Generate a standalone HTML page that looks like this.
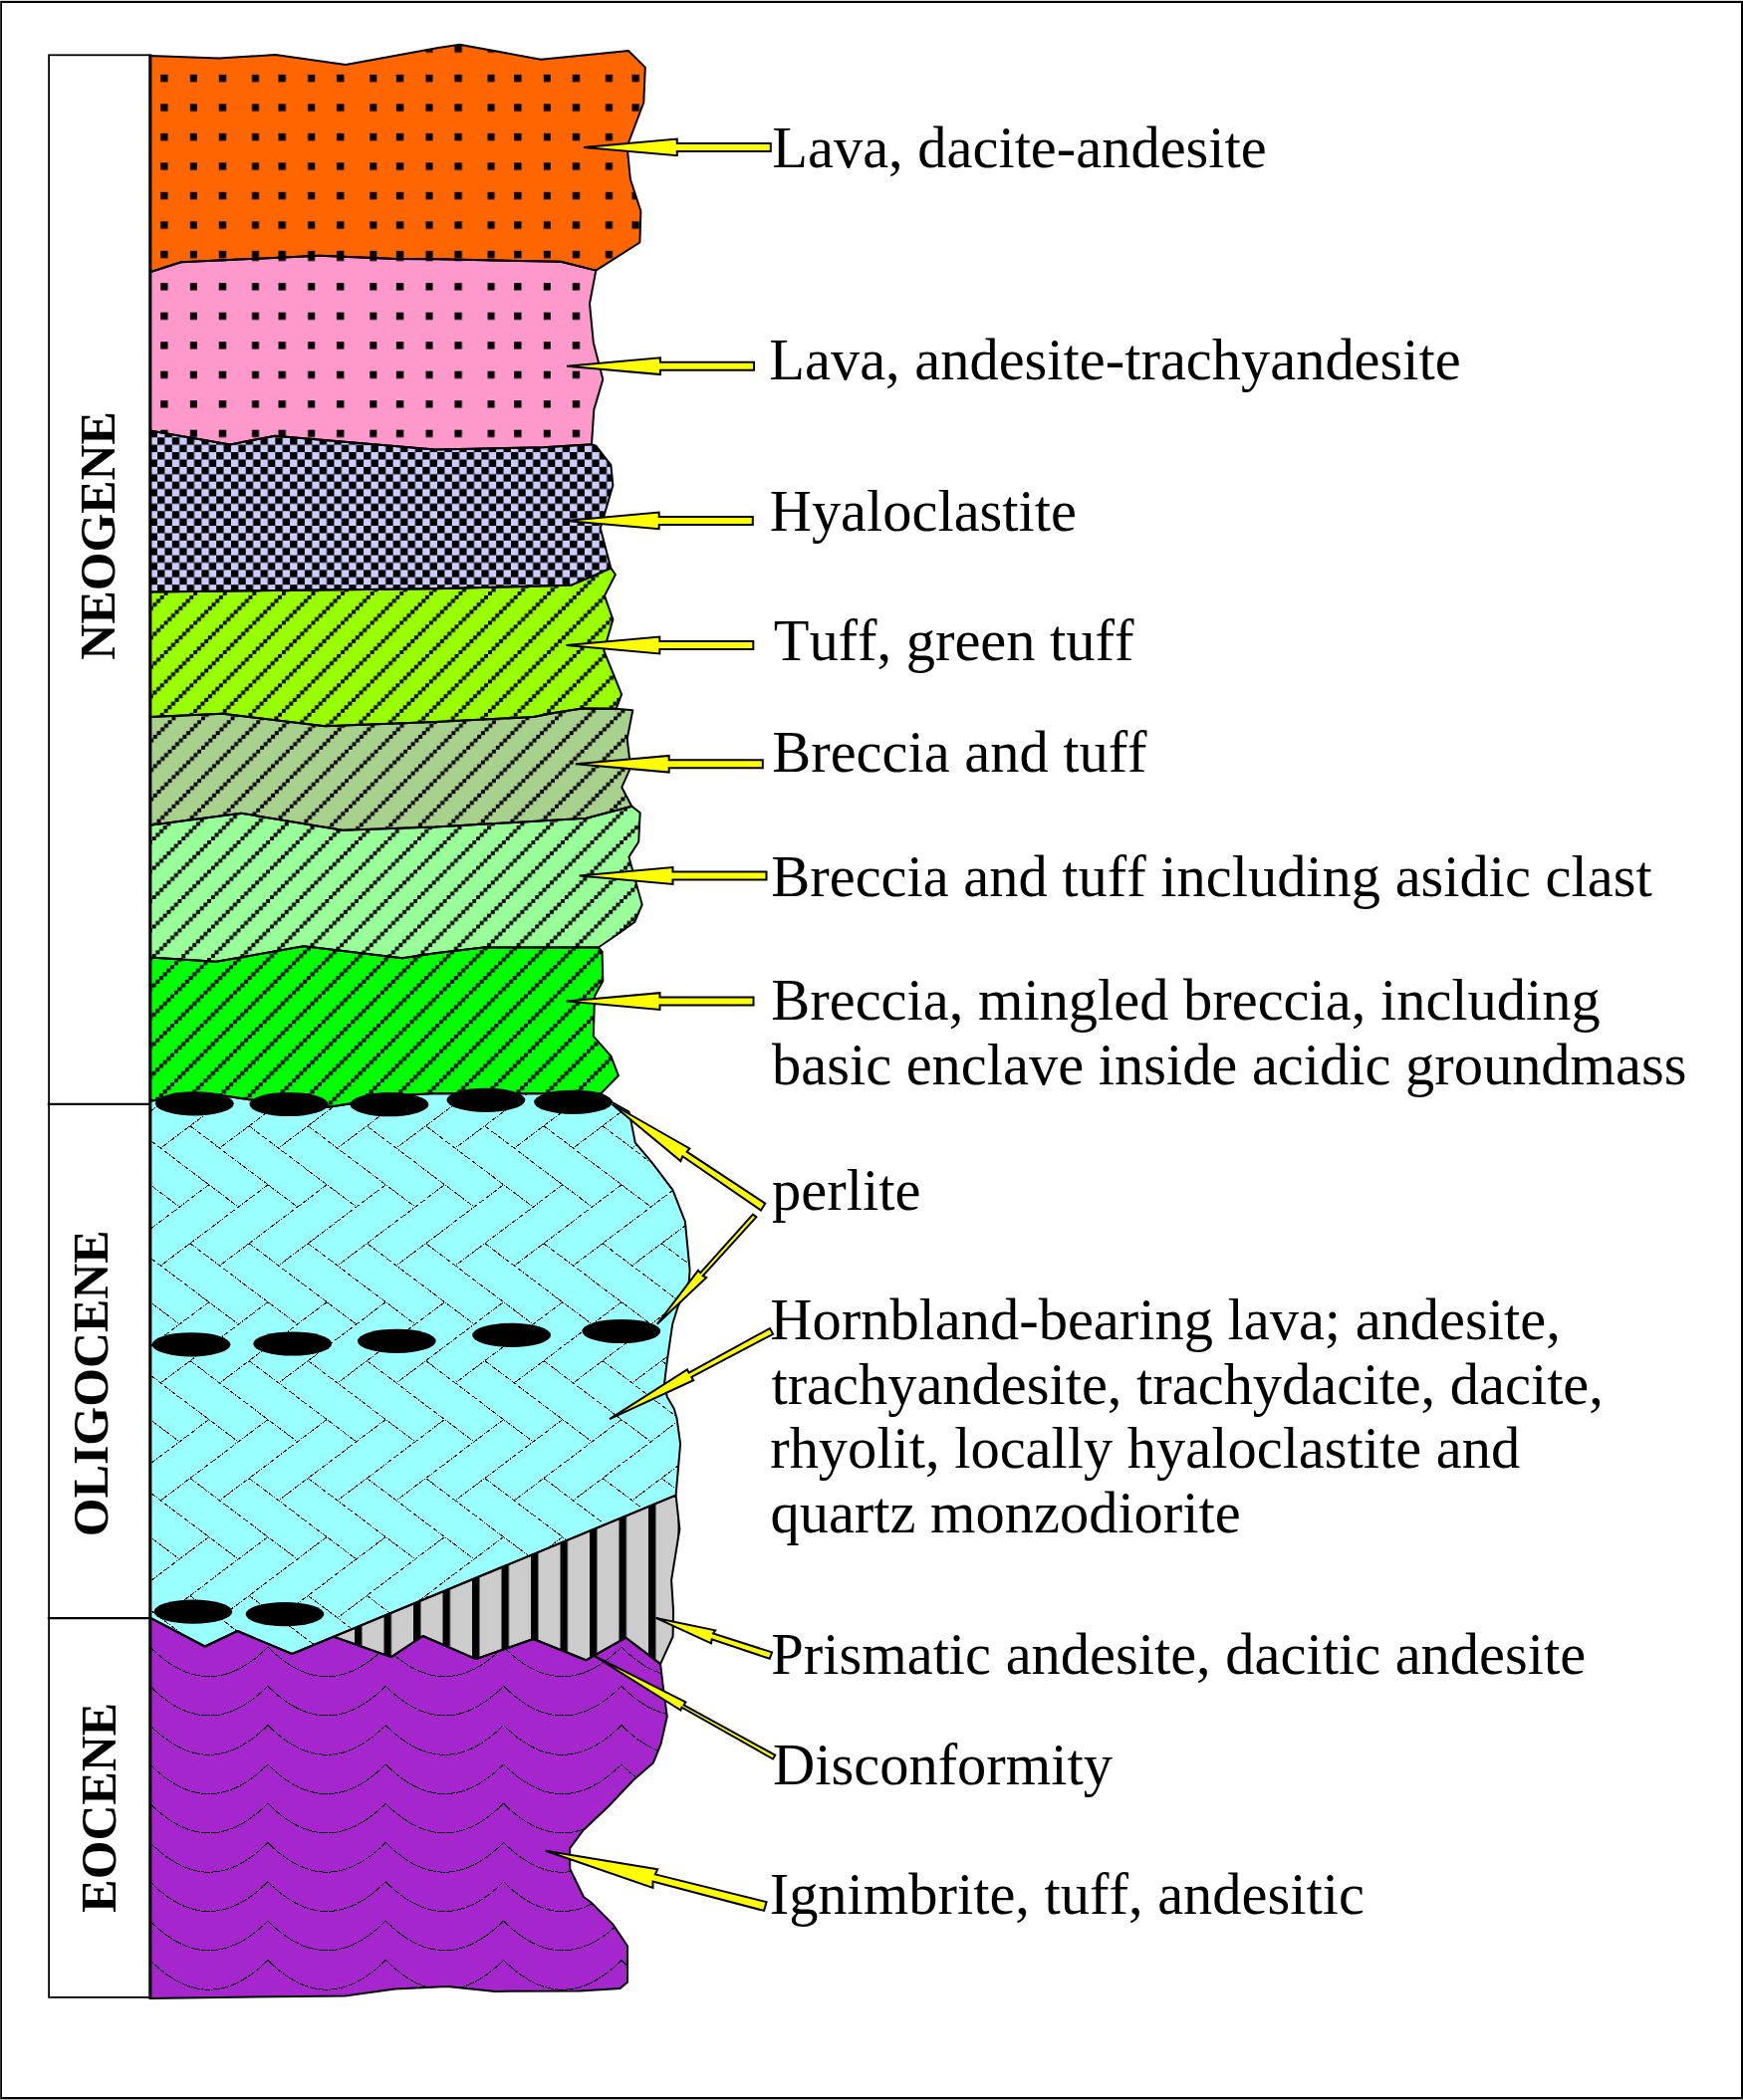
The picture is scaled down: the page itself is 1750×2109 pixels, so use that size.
<!DOCTYPE html>
<html lang="en"><head><meta charset="utf-8"><title>Stratigraphic column</title>
<style>html,body{margin:0;padding:0;background:#fff}svg{display:block}text{font-family:"Liberation Serif","Times New Roman",serif;fill:#000}.lab{font-size:58.45px;font-kerning:none}.era{font-size:49.9px;font-weight:bold;text-anchor:middle;font-kerning:none}</style></head><body>
<svg width="1750" height="2109" viewBox="0 0 1750 2109">
<defs>
<pattern id="dots1" patternUnits="userSpaceOnUse" x="161.20" y="45.35" width="118.320" height="29.500"><rect x="0.00" y="0" width="7.40" height="7.39" fill="#000"/><rect x="29.65" y="0" width="7.00" height="7.39" fill="#000"/><rect x="58.55" y="0" width="7.40" height="7.39" fill="#000"/><rect x="91.80" y="0" width="7.00" height="7.39" fill="#000"/></pattern>
<pattern id="dots2" patternUnits="userSpaceOnUse" x="161.20" y="284.20" width="118.320" height="29.500"><rect x="0.00" y="0" width="7.40" height="7.39" fill="#000"/><rect x="29.65" y="0" width="7.00" height="7.39" fill="#000"/><rect x="58.55" y="0" width="7.40" height="7.39" fill="#000"/><rect x="91.80" y="0" width="7.00" height="7.39" fill="#000"/></pattern>
<pattern id="check" patternUnits="userSpaceOnUse" x="158" y="439.3" width="14.790" height="14.790"><rect x="0" y="0" width="7.395" height="7.395" fill="#000"/><rect x="7.395" y="7.395" width="7.395" height="7.395" fill="#000"/></pattern>
<pattern id="hat1" patternUnits="userSpaceOnUse" x="164.65" y="568.46" width="29.580" height="29.480"><rect x="-0.150" y="25.645" width="3.997" height="3.985" fill="#000"/><rect x="3.547" y="21.960" width="3.997" height="3.985" fill="#000"/><rect x="7.245" y="18.275" width="3.997" height="3.985" fill="#000"/><rect x="10.942" y="14.590" width="3.997" height="3.985" fill="#000"/><rect x="14.640" y="10.905" width="3.997" height="3.985" fill="#000"/><rect x="18.337" y="7.220" width="3.997" height="3.985" fill="#000"/><rect x="22.035" y="3.535" width="3.997" height="3.985" fill="#000"/><rect x="25.733" y="-0.150" width="3.997" height="3.985" fill="#000"/></pattern>
<pattern id="hat2" patternUnits="userSpaceOnUse" x="172.45" y="782.26" width="29.580" height="29.480"><rect x="-0.150" y="25.645" width="3.997" height="3.985" fill="#000"/><rect x="3.547" y="21.960" width="3.997" height="3.985" fill="#000"/><rect x="7.245" y="18.275" width="3.997" height="3.985" fill="#000"/><rect x="10.942" y="14.590" width="3.997" height="3.985" fill="#000"/><rect x="14.640" y="10.905" width="3.997" height="3.985" fill="#000"/><rect x="18.337" y="7.220" width="3.997" height="3.985" fill="#000"/><rect x="22.035" y="3.535" width="3.997" height="3.985" fill="#000"/><rect x="25.733" y="-0.150" width="3.997" height="3.985" fill="#000"/></pattern>
<pattern id="hat3" patternUnits="userSpaceOnUse" x="182.35" y="814.56" width="29.580" height="29.480"><rect x="-0.150" y="25.645" width="3.997" height="3.985" fill="#000"/><rect x="3.547" y="21.960" width="3.997" height="3.985" fill="#000"/><rect x="7.245" y="18.275" width="3.997" height="3.985" fill="#000"/><rect x="10.942" y="14.590" width="3.997" height="3.985" fill="#000"/><rect x="14.640" y="10.905" width="3.997" height="3.985" fill="#000"/><rect x="18.337" y="7.220" width="3.997" height="3.985" fill="#000"/><rect x="22.035" y="3.535" width="3.997" height="3.985" fill="#000"/><rect x="25.733" y="-0.150" width="3.997" height="3.985" fill="#000"/></pattern>
<pattern id="hat4" patternUnits="userSpaceOnUse" x="174.95" y="939.76" width="29.580" height="29.480"><rect x="-0.150" y="25.645" width="3.997" height="3.985" fill="#000"/><rect x="3.547" y="21.960" width="3.997" height="3.985" fill="#000"/><rect x="7.245" y="18.275" width="3.997" height="3.985" fill="#000"/><rect x="10.942" y="14.590" width="3.997" height="3.985" fill="#000"/><rect x="14.640" y="10.905" width="3.997" height="3.985" fill="#000"/><rect x="18.337" y="7.220" width="3.997" height="3.985" fill="#000"/><rect x="22.035" y="3.535" width="3.997" height="3.985" fill="#000"/><rect x="25.733" y="-0.150" width="3.997" height="3.985" fill="#000"/></pattern>
<pattern id="bars" patternUnits="userSpaceOnUse" x="356" y="0" width="29.5" height="29.5"><rect x="0" y="0" width="7.4" height="29.5" fill="#000"/></pattern>
<clipPath id="c_orange"><polygon points="150.6,56.0 219.6,58.6 276.4,55.0 347.1,65.1 440.0,48.0 461.5,44.7 543.0,59.7 631.0,51.0 647.8,67.6 646.3,103.0 631.2,143.0 630.3,153.8 632.9,180.0 643.4,212.0 642.4,243.5 598.3,271.6 563.0,262.8 440.0,260.3 397.6,260.0 320.6,256.8 181.8,263.3 150.6,273.2"/></clipPath>
<clipPath id="c_pink"><polygon points="150.6,273.2 181.8,263.3 320.6,256.8 397.6,260.0 440.0,260.3 563.0,262.8 598.3,271.6 592.0,305.0 595.8,343.9 605.3,381.0 596.3,411.6 594.0,446.2 545.6,449.3 437.0,451.6 276.0,437.7 231.0,446.4 150.6,432.6"/></clipPath>
<clipPath id="c_lilac"><polygon points="150.6,432.6 231.0,446.4 276.0,437.7 437.0,451.6 545.6,449.3 594.0,446.2 598.3,447.7 613.4,467.1 615.4,487.5 602.8,530.5 613.4,570.7 573.2,587.8 505.4,589.5 437.0,591.3 150.6,594.5"/></clipPath>
<clipPath id="c_lime"><polygon points="150.6,594.5 437.0,591.3 505.4,589.5 573.2,587.8 613.4,570.7 617.9,577.0 607.0,598.3 615.4,622.1 606.3,653.5 624.1,697.4 618.4,712.5 618.0,711.7 584.7,711.6 560.0,715.3 535.5,720.0 437.0,725.0 326.3,729.3 223.4,716.8 150.6,720.0"/></clipPath>
<clipPath id="c_olive"><polygon points="150.6,720.0 223.4,716.8 326.3,729.3 437.0,725.0 535.5,720.0 560.0,715.3 584.7,711.6 618.0,711.7 635.3,713.3 629.7,742.0 632.0,761.3 632.3,772.7 624.3,790.7 634.3,809.7 588.7,821.8 437.0,830.5 343.9,833.7 242.2,816.7 150.6,828.7"/></clipPath>
<clipPath id="c_mint"><polygon points="150.6,828.7 242.2,816.7 343.9,833.7 437.0,830.5 588.7,821.8 634.3,809.7 642.7,816.3 641.2,845.5 631.4,860.6 644.7,908.5 637.2,926.0 620.9,937.7 600.8,951.5 485.3,951.5 437.0,957.2 404.1,962.2 305.0,950.2 217.1,965.8 150.6,961.5"/></clipPath>
<clipPath id="c_green"><polygon points="150.6,961.5 217.1,965.8 305.0,950.2 404.1,962.2 437.0,957.2 485.3,951.5 600.8,951.5 604.6,955.7 605.3,985.3 597.0,1000.4 595.8,1040.6 613.4,1060.6 620.9,1080.2 603.3,1098.3 437.0,1098.0 405.0,1100.0 328.8,1112.1 300.0,1108.0 250.0,1104.2 225.0,1100.5 150.6,1105.5"/></clipPath>
<clipPath id="c_cyan"><polygon points="150.6,1105.5 225.0,1100.5 250.0,1104.2 300.0,1108.0 328.8,1112.1 405.0,1100.0 437.0,1098.0 603.3,1098.3 614.6,1107.0 631.6,1116.6 634.0,1128.4 637.8,1147.6 654.5,1167.4 675.5,1195.2 687.9,1226.8 692.6,1275.7 691.8,1286.8 680.5,1312.8 675.2,1329.8 669.8,1366.9 667.0,1389.8 669.8,1402.8 676.8,1414.8 679.6,1424.6 683.1,1450.2 678.6,1501.7 293.2,1661.0 238.5,1638.0 205.8,1653.5 150.6,1624.6"/></clipPath>
<clipPath id="c_gray"><polygon points="335.1,1643.7 678.6,1501.7 682.4,1535.5 674.1,1587.0 676.1,1618.4 675.6,1643.5 663.1,1671.1 628.4,1644.7 588.3,1667.3 535.5,1646.0 477.8,1666.1 424.6,1643.0 392.8,1664.1"/></clipPath>
<clipPath id="c_purple"><polygon points="150.6,1624.6 205.8,1653.5 238.5,1638.0 293.2,1661.0 335.1,1643.7 392.8,1664.1 424.6,1643.0 477.8,1666.1 535.5,1646.0 588.3,1667.3 628.4,1644.7 663.1,1671.1 666.1,1696.2 669.8,1723.8 663.6,1751.4 656.0,1770.2 635.9,1787.8 610.8,1814.2 585.7,1838.0 572.1,1856.3 572.3,1877.0 586.0,1905.0 593.1,1910.3 615.0,1932.1 630.0,1954.2 630.0,1990.8 622.5,1996.9 582.3,1999.4 497.0,1999.9 449.3,1994.9 396.6,1997.4 346.4,2004.4 150.6,2006.9"/></clipPath>
</defs>
<rect x="0" y="0" width="1750" height="2109" fill="#fff"/>
<polygon points="150.6,56.0 219.6,58.6 276.4,55.0 347.1,65.1 440.0,48.0 461.5,44.7 543.0,59.7 631.0,51.0 647.8,67.6 646.3,103.0 631.2,143.0 630.3,153.8 632.9,180.0 643.4,212.0 642.4,243.5 598.3,271.6 563.0,262.8 440.0,260.3 397.6,260.0 320.6,256.8 181.8,263.3 150.6,273.2" fill="#FF6600"/>
<polygon points="150.6,56.0 219.6,58.6 276.4,55.0 347.1,65.1 440.0,48.0 461.5,44.7 543.0,59.7 631.0,51.0 647.8,67.6 646.3,103.0 631.2,143.0 630.3,153.8 632.9,180.0 643.4,212.0 642.4,243.5 598.3,271.6 563.0,262.8 440.0,260.3 397.6,260.0 320.6,256.8 181.8,263.3 150.6,273.2" fill="url(#dots1)"/>
<polygon points="150.6,273.2 181.8,263.3 320.6,256.8 397.6,260.0 440.0,260.3 563.0,262.8 598.3,271.6 592.0,305.0 595.8,343.9 605.3,381.0 596.3,411.6 594.0,446.2 545.6,449.3 437.0,451.6 276.0,437.7 231.0,446.4 150.6,432.6" fill="#FF99CC"/>
<polygon points="150.6,273.2 181.8,263.3 320.6,256.8 397.6,260.0 440.0,260.3 563.0,262.8 598.3,271.6 592.0,305.0 595.8,343.9 605.3,381.0 596.3,411.6 594.0,446.2 545.6,449.3 437.0,451.6 276.0,437.7 231.0,446.4 150.6,432.6" fill="url(#dots2)"/>
<polygon points="150.6,432.6 231.0,446.4 276.0,437.7 437.0,451.6 545.6,449.3 594.0,446.2 598.3,447.7 613.4,467.1 615.4,487.5 602.8,530.5 613.4,570.7 573.2,587.8 505.4,589.5 437.0,591.3 150.6,594.5" fill="#CCCCFF"/>
<polygon points="150.6,432.6 231.0,446.4 276.0,437.7 437.0,451.6 545.6,449.3 594.0,446.2 598.3,447.7 613.4,467.1 615.4,487.5 602.8,530.5 613.4,570.7 573.2,587.8 505.4,589.5 437.0,591.3 150.6,594.5" fill="url(#check)"/>
<polygon points="150.6,594.5 437.0,591.3 505.4,589.5 573.2,587.8 613.4,570.7 617.9,577.0 607.0,598.3 615.4,622.1 606.3,653.5 624.1,697.4 618.4,712.5 618.0,711.7 584.7,711.6 560.0,715.3 535.5,720.0 437.0,725.0 326.3,729.3 223.4,716.8 150.6,720.0" fill="#99FF00"/>
<polygon points="150.6,594.5 437.0,591.3 505.4,589.5 573.2,587.8 613.4,570.7 617.9,577.0 607.0,598.3 615.4,622.1 606.3,653.5 624.1,697.4 618.4,712.5 618.0,711.7 584.7,711.6 560.0,715.3 535.5,720.0 437.0,725.0 326.3,729.3 223.4,716.8 150.6,720.0" fill="url(#hat1)"/>
<polygon points="150.6,720.0 223.4,716.8 326.3,729.3 437.0,725.0 535.5,720.0 560.0,715.3 584.7,711.6 618.0,711.7 635.3,713.3 629.7,742.0 632.0,761.3 632.3,772.7 624.3,790.7 634.3,809.7 588.7,821.8 437.0,830.5 343.9,833.7 242.2,816.7 150.6,828.7" fill="#A9D18E"/>
<polygon points="150.6,720.0 223.4,716.8 326.3,729.3 437.0,725.0 535.5,720.0 560.0,715.3 584.7,711.6 618.0,711.7 635.3,713.3 629.7,742.0 632.0,761.3 632.3,772.7 624.3,790.7 634.3,809.7 588.7,821.8 437.0,830.5 343.9,833.7 242.2,816.7 150.6,828.7" fill="url(#hat2)"/>
<polygon points="150.6,828.7 242.2,816.7 343.9,833.7 437.0,830.5 588.7,821.8 634.3,809.7 642.7,816.3 641.2,845.5 631.4,860.6 644.7,908.5 637.2,926.0 620.9,937.7 600.8,951.5 485.3,951.5 437.0,957.2 404.1,962.2 305.0,950.2 217.1,965.8 150.6,961.5" fill="#99FF99"/>
<polygon points="150.6,828.7 242.2,816.7 343.9,833.7 437.0,830.5 588.7,821.8 634.3,809.7 642.7,816.3 641.2,845.5 631.4,860.6 644.7,908.5 637.2,926.0 620.9,937.7 600.8,951.5 485.3,951.5 437.0,957.2 404.1,962.2 305.0,950.2 217.1,965.8 150.6,961.5" fill="url(#hat3)"/>
<polygon points="150.6,961.5 217.1,965.8 305.0,950.2 404.1,962.2 437.0,957.2 485.3,951.5 600.8,951.5 604.6,955.7 605.3,985.3 597.0,1000.4 595.8,1040.6 613.4,1060.6 620.9,1080.2 603.3,1098.3 437.0,1098.0 405.0,1100.0 328.8,1112.1 300.0,1108.0 250.0,1104.2 225.0,1100.5 150.6,1105.5" fill="#00FF00"/>
<polygon points="150.6,961.5 217.1,965.8 305.0,950.2 404.1,962.2 437.0,957.2 485.3,951.5 600.8,951.5 604.6,955.7 605.3,985.3 597.0,1000.4 595.8,1040.6 613.4,1060.6 620.9,1080.2 603.3,1098.3 437.0,1098.0 405.0,1100.0 328.8,1112.1 300.0,1108.0 250.0,1104.2 225.0,1100.5 150.6,1105.5" fill="url(#hat4)"/>
<polygon points="150.6,1105.5 225.0,1100.5 250.0,1104.2 300.0,1108.0 328.8,1112.1 405.0,1100.0 437.0,1098.0 603.3,1098.3 614.6,1107.0 631.6,1116.6 634.0,1128.4 637.8,1147.6 654.5,1167.4 675.5,1195.2 687.9,1226.8 692.6,1275.7 691.8,1286.8 680.5,1312.8 675.2,1329.8 669.8,1366.9 667.0,1389.8 669.8,1402.8 676.8,1414.8 679.6,1424.6 683.1,1450.2 678.6,1501.7 293.2,1661.0 238.5,1638.0 205.8,1653.5 150.6,1624.6" fill="#99FFFF"/>
<polygon points="335.1,1643.7 678.6,1501.7 682.4,1535.5 674.1,1587.0 676.1,1618.4 675.6,1643.5 663.1,1671.1 628.4,1644.7 588.3,1667.3 535.5,1646.0 477.8,1666.1 424.6,1643.0 392.8,1664.1" fill="#CCCCCC"/>
<polygon points="335.1,1643.7 678.6,1501.7 682.4,1535.5 674.1,1587.0 676.1,1618.4 675.6,1643.5 663.1,1671.1 628.4,1644.7 588.3,1667.3 535.5,1646.0 477.8,1666.1 424.6,1643.0 392.8,1664.1" fill="url(#bars)"/>
<polygon points="150.6,1624.6 205.8,1653.5 238.5,1638.0 293.2,1661.0 335.1,1643.7 392.8,1664.1 424.6,1643.0 477.8,1666.1 535.5,1646.0 588.3,1667.3 628.4,1644.7 663.1,1671.1 666.1,1696.2 669.8,1723.8 663.6,1751.4 656.0,1770.2 635.9,1787.8 610.8,1814.2 585.7,1838.0 572.1,1856.3 572.3,1877.0 586.0,1905.0 593.1,1910.3 615.0,1932.1 630.0,1954.2 630.0,1990.8 622.5,1996.9 582.3,1999.4 497.0,1999.9 449.3,1994.9 396.6,1997.4 346.4,2004.4 150.6,2006.9" fill="#A526CC"/>
<path d="M13.4 1012.9l107.7 81.3M91.5 1071.8l-107.7 81.3M13.4 1130.8l107.7 81.3M91.5 1189.8l-107.7 81.3M13.4 1248.7l107.7 81.3M91.5 1307.7l-107.7 81.3M13.4 1366.6l107.7 81.3M91.5 1425.6l-107.7 81.3M13.4 1484.6l107.7 81.3M91.5 1543.5l-107.7 81.3M13.4 1602.5l107.7 81.3M91.5 1661.4l-107.7 81.3M13.4 1720.4l107.7 81.3M91.5 1779.4l-107.7 81.3M72.6 1012.9l107.7 81.3M150.7 1071.8l-107.7 81.3M72.6 1130.8l107.7 81.3M150.7 1189.8l-107.7 81.3M72.6 1248.7l107.7 81.3M150.7 1307.7l-107.7 81.3M72.6 1366.6l107.7 81.3M150.7 1425.6l-107.7 81.3M72.6 1484.6l107.7 81.3M150.7 1543.5l-107.7 81.3M72.6 1602.5l107.7 81.3M150.7 1661.4l-107.7 81.3M72.6 1720.4l107.7 81.3M150.7 1779.4l-107.7 81.3M131.7 1012.9l107.7 81.3M209.8 1071.8l-107.7 81.3M131.7 1130.8l107.7 81.3M209.8 1189.8l-107.7 81.3M131.7 1248.7l107.7 81.3M209.8 1307.7l-107.7 81.3M131.7 1366.6l107.7 81.3M209.8 1425.6l-107.7 81.3M131.7 1484.6l107.7 81.3M209.8 1543.5l-107.7 81.3M131.7 1602.5l107.7 81.3M209.8 1661.4l-107.7 81.3M131.7 1720.4l107.7 81.3M209.8 1779.4l-107.7 81.3M190.9 1012.9l107.7 81.3M269.0 1071.8l-107.7 81.3M190.9 1130.8l107.7 81.3M269.0 1189.8l-107.7 81.3M190.9 1248.7l107.7 81.3M269.0 1307.7l-107.7 81.3M190.9 1366.6l107.7 81.3M269.0 1425.6l-107.7 81.3M190.9 1484.6l107.7 81.3M269.0 1543.5l-107.7 81.3M190.9 1602.5l107.7 81.3M269.0 1661.4l-107.7 81.3M190.9 1720.4l107.7 81.3M269.0 1779.4l-107.7 81.3M250.1 1012.9l107.7 81.3M328.2 1071.8l-107.7 81.3M250.1 1130.8l107.7 81.3M328.2 1189.8l-107.7 81.3M250.1 1248.7l107.7 81.3M328.2 1307.7l-107.7 81.3M250.1 1366.6l107.7 81.3M328.2 1425.6l-107.7 81.3M250.1 1484.6l107.7 81.3M328.2 1543.5l-107.7 81.3M250.1 1602.5l107.7 81.3M328.2 1661.4l-107.7 81.3M250.1 1720.4l107.7 81.3M328.2 1779.4l-107.7 81.3M309.2 1012.9l107.7 81.3M387.3 1071.8l-107.7 81.3M309.2 1130.8l107.7 81.3M387.3 1189.8l-107.7 81.3M309.2 1248.7l107.7 81.3M387.3 1307.7l-107.7 81.3M309.2 1366.6l107.7 81.3M387.3 1425.6l-107.7 81.3M309.2 1484.6l107.7 81.3M387.3 1543.5l-107.7 81.3M309.2 1602.5l107.7 81.3M387.3 1661.4l-107.7 81.3M309.2 1720.4l107.7 81.3M387.3 1779.4l-107.7 81.3M368.4 1012.9l107.7 81.3M446.5 1071.8l-107.7 81.3M368.4 1130.8l107.7 81.3M446.5 1189.8l-107.7 81.3M368.4 1248.7l107.7 81.3M446.5 1307.7l-107.7 81.3M368.4 1366.6l107.7 81.3M446.5 1425.6l-107.7 81.3M368.4 1484.6l107.7 81.3M446.5 1543.5l-107.7 81.3M368.4 1602.5l107.7 81.3M446.5 1661.4l-107.7 81.3M368.4 1720.4l107.7 81.3M446.5 1779.4l-107.7 81.3M427.5 1012.9l107.7 81.3M505.6 1071.8l-107.7 81.3M427.5 1130.8l107.7 81.3M505.6 1189.8l-107.7 81.3M427.5 1248.7l107.7 81.3M505.6 1307.7l-107.7 81.3M427.5 1366.6l107.7 81.3M505.6 1425.6l-107.7 81.3M427.5 1484.6l107.7 81.3M505.6 1543.5l-107.7 81.3M427.5 1602.5l107.7 81.3M505.6 1661.4l-107.7 81.3M427.5 1720.4l107.7 81.3M505.6 1779.4l-107.7 81.3M486.7 1012.9l107.7 81.3M564.8 1071.8l-107.7 81.3M486.7 1130.8l107.7 81.3M564.8 1189.8l-107.7 81.3M486.7 1248.7l107.7 81.3M564.8 1307.7l-107.7 81.3M486.7 1366.6l107.7 81.3M564.8 1425.6l-107.7 81.3M486.7 1484.6l107.7 81.3M564.8 1543.5l-107.7 81.3M486.7 1602.5l107.7 81.3M564.8 1661.4l-107.7 81.3M486.7 1720.4l107.7 81.3M564.8 1779.4l-107.7 81.3M545.9 1012.9l107.7 81.3M624.0 1071.8l-107.7 81.3M545.9 1130.8l107.7 81.3M624.0 1189.8l-107.7 81.3M545.9 1248.7l107.7 81.3M624.0 1307.7l-107.7 81.3M545.9 1366.6l107.7 81.3M624.0 1425.6l-107.7 81.3M545.9 1484.6l107.7 81.3M624.0 1543.5l-107.7 81.3M545.9 1602.5l107.7 81.3M624.0 1661.4l-107.7 81.3M545.9 1720.4l107.7 81.3M624.0 1779.4l-107.7 81.3M605.0 1012.9l107.7 81.3M683.1 1071.8l-107.7 81.3M605.0 1130.8l107.7 81.3M683.1 1189.8l-107.7 81.3M605.0 1248.7l107.7 81.3M683.1 1307.7l-107.7 81.3M605.0 1366.6l107.7 81.3M683.1 1425.6l-107.7 81.3M605.0 1484.6l107.7 81.3M683.1 1543.5l-107.7 81.3M605.0 1602.5l107.7 81.3M683.1 1661.4l-107.7 81.3M605.0 1720.4l107.7 81.3M683.1 1779.4l-107.7 81.3M664.2 1012.9l107.7 81.3M742.3 1071.8l-107.7 81.3M664.2 1130.8l107.7 81.3M742.3 1189.8l-107.7 81.3M664.2 1248.7l107.7 81.3M742.3 1307.7l-107.7 81.3M664.2 1366.6l107.7 81.3M742.3 1425.6l-107.7 81.3M664.2 1484.6l107.7 81.3M742.3 1543.5l-107.7 81.3M664.2 1602.5l107.7 81.3M742.3 1661.4l-107.7 81.3M664.2 1720.4l107.7 81.3M742.3 1779.4l-107.7 81.3M723.3 1012.9l107.7 81.3M801.4 1071.8l-107.7 81.3M723.3 1130.8l107.7 81.3M801.4 1189.8l-107.7 81.3M723.3 1248.7l107.7 81.3M801.4 1307.7l-107.7 81.3M723.3 1366.6l107.7 81.3M801.4 1425.6l-107.7 81.3M723.3 1484.6l107.7 81.3M801.4 1543.5l-107.7 81.3M723.3 1602.5l107.7 81.3M801.4 1661.4l-107.7 81.3M723.3 1720.4l107.7 81.3M801.4 1779.4l-107.7 81.3M782.5 1012.9l107.7 81.3M860.6 1071.8l-107.7 81.3M782.5 1130.8l107.7 81.3M860.6 1189.8l-107.7 81.3M782.5 1248.7l107.7 81.3M860.6 1307.7l-107.7 81.3M782.5 1366.6l107.7 81.3M860.6 1425.6l-107.7 81.3M782.5 1484.6l107.7 81.3M860.6 1543.5l-107.7 81.3M782.5 1602.5l107.7 81.3M860.6 1661.4l-107.7 81.3M782.5 1720.4l107.7 81.3M860.6 1779.4l-107.7 81.3M841.7 1012.9l107.7 81.3M919.8 1071.8l-107.7 81.3M841.7 1130.8l107.7 81.3M919.8 1189.8l-107.7 81.3M841.7 1248.7l107.7 81.3M919.8 1307.7l-107.7 81.3M841.7 1366.6l107.7 81.3M919.8 1425.6l-107.7 81.3M841.7 1484.6l107.7 81.3M919.8 1543.5l-107.7 81.3M841.7 1602.5l107.7 81.3M919.8 1661.4l-107.7 81.3M841.7 1720.4l107.7 81.3M919.8 1779.4l-107.7 81.3M900.8 1012.9l107.7 81.3M978.9 1071.8l-107.7 81.3M900.8 1130.8l107.7 81.3M978.9 1189.8l-107.7 81.3M900.8 1248.7l107.7 81.3M978.9 1307.7l-107.7 81.3M900.8 1366.6l107.7 81.3M978.9 1425.6l-107.7 81.3M900.8 1484.6l107.7 81.3M978.9 1543.5l-107.7 81.3M900.8 1602.5l107.7 81.3M978.9 1661.4l-107.7 81.3M900.8 1720.4l107.7 81.3M978.9 1779.4l-107.7 81.3" clip-path="url(#c_cyan)" fill="none" stroke="#000" stroke-width="1" stroke-dasharray="5 1.2 1 1.2" shape-rendering="crispEdges"/>
<path d="M150.6 1614.7q59.2 59.4 118.3 0M268.9 1614.7q59.2 59.4 118.3 0M387.2 1614.7q59.2 59.4 118.3 0M505.6 1614.7q59.2 59.4 118.3 0M623.9 1614.7q59.2 59.4 118.3 0M150.6 1654.0q59.2 59.4 118.3 0M268.9 1654.0q59.2 59.4 118.3 0M387.2 1654.0q59.2 59.4 118.3 0M505.6 1654.0q59.2 59.4 118.3 0M623.9 1654.0q59.2 59.4 118.3 0M150.6 1693.3q59.2 59.4 118.3 0M268.9 1693.3q59.2 59.4 118.3 0M387.2 1693.3q59.2 59.4 118.3 0M505.6 1693.3q59.2 59.4 118.3 0M623.9 1693.3q59.2 59.4 118.3 0M150.6 1732.6q59.2 59.4 118.3 0M268.9 1732.6q59.2 59.4 118.3 0M387.2 1732.6q59.2 59.4 118.3 0M505.6 1732.6q59.2 59.4 118.3 0M623.9 1732.6q59.2 59.4 118.3 0M150.6 1771.9q59.2 59.4 118.3 0M268.9 1771.9q59.2 59.4 118.3 0M387.2 1771.9q59.2 59.4 118.3 0M505.6 1771.9q59.2 59.4 118.3 0M623.9 1771.9q59.2 59.4 118.3 0M150.6 1811.2q59.2 59.4 118.3 0M268.9 1811.2q59.2 59.4 118.3 0M387.2 1811.2q59.2 59.4 118.3 0M505.6 1811.2q59.2 59.4 118.3 0M623.9 1811.2q59.2 59.4 118.3 0M150.6 1850.5q59.2 59.4 118.3 0M268.9 1850.5q59.2 59.4 118.3 0M387.2 1850.5q59.2 59.4 118.3 0M505.6 1850.5q59.2 59.4 118.3 0M623.9 1850.5q59.2 59.4 118.3 0M150.6 1889.8q59.2 59.4 118.3 0M268.9 1889.8q59.2 59.4 118.3 0M387.2 1889.8q59.2 59.4 118.3 0M505.6 1889.8q59.2 59.4 118.3 0M623.9 1889.8q59.2 59.4 118.3 0M150.6 1929.1q59.2 59.4 118.3 0M268.9 1929.1q59.2 59.4 118.3 0M387.2 1929.1q59.2 59.4 118.3 0M505.6 1929.1q59.2 59.4 118.3 0M623.9 1929.1q59.2 59.4 118.3 0M150.6 1968.5q59.2 59.4 118.3 0M268.9 1968.5q59.2 59.4 118.3 0M387.2 1968.5q59.2 59.4 118.3 0M505.6 1968.5q59.2 59.4 118.3 0M623.9 1968.5q59.2 59.4 118.3 0M150.6 2007.8q59.2 59.4 118.3 0M268.9 2007.8q59.2 59.4 118.3 0M387.2 2007.8q59.2 59.4 118.3 0M505.6 2007.8q59.2 59.4 118.3 0M623.9 2007.8q59.2 59.4 118.3 0" clip-path="url(#c_purple)" fill="none" stroke="#000" stroke-width="1" stroke-dasharray="9 1" shape-rendering="crispEdges"/>
<polygon points="150.6,56.0 219.6,58.6 276.4,55.0 347.1,65.1 440.0,48.0 461.5,44.7 543.0,59.7 631.0,51.0 647.8,67.6 646.3,103.0 631.2,143.0 630.3,153.8 632.9,180.0 643.4,212.0 642.4,243.5 598.3,271.6 563.0,262.8 440.0,260.3 397.6,260.0 320.6,256.8 181.8,263.3 150.6,273.2" fill="none" stroke="#000" stroke-width="2" stroke-linejoin="round"/>
<polygon points="150.6,273.2 181.8,263.3 320.6,256.8 397.6,260.0 440.0,260.3 563.0,262.8 598.3,271.6 592.0,305.0 595.8,343.9 605.3,381.0 596.3,411.6 594.0,446.2 545.6,449.3 437.0,451.6 276.0,437.7 231.0,446.4 150.6,432.6" fill="none" stroke="#000" stroke-width="2" stroke-linejoin="round"/>
<polygon points="150.6,432.6 231.0,446.4 276.0,437.7 437.0,451.6 545.6,449.3 594.0,446.2 598.3,447.7 613.4,467.1 615.4,487.5 602.8,530.5 613.4,570.7 573.2,587.8 505.4,589.5 437.0,591.3 150.6,594.5" fill="none" stroke="#000" stroke-width="2" stroke-linejoin="round"/>
<polygon points="150.6,594.5 437.0,591.3 505.4,589.5 573.2,587.8 613.4,570.7 617.9,577.0 607.0,598.3 615.4,622.1 606.3,653.5 624.1,697.4 618.4,712.5 618.0,711.7 584.7,711.6 560.0,715.3 535.5,720.0 437.0,725.0 326.3,729.3 223.4,716.8 150.6,720.0" fill="none" stroke="#000" stroke-width="2" stroke-linejoin="round"/>
<polygon points="150.6,720.0 223.4,716.8 326.3,729.3 437.0,725.0 535.5,720.0 560.0,715.3 584.7,711.6 618.0,711.7 635.3,713.3 629.7,742.0 632.0,761.3 632.3,772.7 624.3,790.7 634.3,809.7 588.7,821.8 437.0,830.5 343.9,833.7 242.2,816.7 150.6,828.7" fill="none" stroke="#000" stroke-width="2" stroke-linejoin="round"/>
<polygon points="150.6,828.7 242.2,816.7 343.9,833.7 437.0,830.5 588.7,821.8 634.3,809.7 642.7,816.3 641.2,845.5 631.4,860.6 644.7,908.5 637.2,926.0 620.9,937.7 600.8,951.5 485.3,951.5 437.0,957.2 404.1,962.2 305.0,950.2 217.1,965.8 150.6,961.5" fill="none" stroke="#000" stroke-width="2" stroke-linejoin="round"/>
<polygon points="150.6,961.5 217.1,965.8 305.0,950.2 404.1,962.2 437.0,957.2 485.3,951.5 600.8,951.5 604.6,955.7 605.3,985.3 597.0,1000.4 595.8,1040.6 613.4,1060.6 620.9,1080.2 603.3,1098.3 437.0,1098.0 405.0,1100.0 328.8,1112.1 300.0,1108.0 250.0,1104.2 225.0,1100.5 150.6,1105.5" fill="none" stroke="#000" stroke-width="2" stroke-linejoin="round"/>
<polygon points="150.6,1105.5 225.0,1100.5 250.0,1104.2 300.0,1108.0 328.8,1112.1 405.0,1100.0 437.0,1098.0 603.3,1098.3 614.6,1107.0 631.6,1116.6 634.0,1128.4 637.8,1147.6 654.5,1167.4 675.5,1195.2 687.9,1226.8 692.6,1275.7 691.8,1286.8 680.5,1312.8 675.2,1329.8 669.8,1366.9 667.0,1389.8 669.8,1402.8 676.8,1414.8 679.6,1424.6 683.1,1450.2 678.6,1501.7 293.2,1661.0 238.5,1638.0 205.8,1653.5 150.6,1624.6" fill="none" stroke="#000" stroke-width="2" stroke-linejoin="round"/>
<polygon points="335.1,1643.7 678.6,1501.7 682.4,1535.5 674.1,1587.0 676.1,1618.4 675.6,1643.5 663.1,1671.1 628.4,1644.7 588.3,1667.3 535.5,1646.0 477.8,1666.1 424.6,1643.0 392.8,1664.1" fill="none" stroke="#000" stroke-width="2" stroke-linejoin="round"/>
<polygon points="150.6,1624.6 205.8,1653.5 238.5,1638.0 293.2,1661.0 335.1,1643.7 392.8,1664.1 424.6,1643.0 477.8,1666.1 535.5,1646.0 588.3,1667.3 628.4,1644.7 663.1,1671.1 666.1,1696.2 669.8,1723.8 663.6,1751.4 656.0,1770.2 635.9,1787.8 610.8,1814.2 585.7,1838.0 572.1,1856.3 572.3,1877.0 586.0,1905.0 593.1,1910.3 615.0,1932.1 630.0,1954.2 630.0,1990.8 622.5,1996.9 582.3,1999.4 497.0,1999.9 449.3,1994.9 396.6,1997.4 346.4,2004.4 150.6,2006.9" fill="none" stroke="#000" stroke-width="2" stroke-linejoin="round"/>
<ellipse cx="195.4" cy="1108.3" rx="39.4" ry="12.1" fill="#000"/>
<ellipse cx="289.9" cy="1109.0" rx="39.4" ry="12.1" fill="#000"/>
<ellipse cx="390.9" cy="1109.2" rx="39.4" ry="12.1" fill="#000"/>
<ellipse cx="487.9" cy="1104.8" rx="39.4" ry="12.1" fill="#000"/>
<ellipse cx="575.5" cy="1106.8" rx="39.4" ry="12.1" fill="#000"/>
<ellipse cx="192.0" cy="1350.3" rx="39.4" ry="12.1" fill="#000"/>
<ellipse cx="293.7" cy="1349.5" rx="39.4" ry="12.1" fill="#000"/>
<ellipse cx="398.3" cy="1346.8" rx="39.4" ry="12.1" fill="#000"/>
<ellipse cx="513.6" cy="1340.9" rx="39.4" ry="12.1" fill="#000"/>
<ellipse cx="623.8" cy="1337.0" rx="39.4" ry="12.1" fill="#000"/>
<ellipse cx="193.9" cy="1618.6" rx="39.4" ry="12.1" fill="#000"/>
<ellipse cx="286.0" cy="1621.1" rx="39.4" ry="12.1" fill="#000"/>
<g fill="none" stroke="#000">
<rect x="49.1" y="55.3" width="101.4" height="1950.6" stroke-width="1.8" fill="#fff"/>
<path d="M47.8 1108.9H150.5M47.8 1625.2H150.5" stroke-width="2.2"/>
<path d="M150.9 54.4V2007.8" stroke-width="3"/>
</g>
<text class="era" transform="translate(115.1 537.9) rotate(-90)">NEOGENE</text>
<text class="era" transform="translate(107.9 1389.3) rotate(-90)">OLIGOCENE</text>
<text class="era" transform="translate(116.4 1815.3) rotate(-90)">EOCENE</text>
<g fill="#FFFF00" stroke="#000" stroke-width="2" stroke-linejoin="miter">
<polygon points="586.0,147.9 679.8,139.6 679.8,143.9 773.8,143.9 773.8,151.9 679.8,151.9 679.8,156.2"/>
<polygon points="569.1,367.7 662.9,359.3 662.9,363.7 757.0,363.7 757.0,371.7 662.9,371.7 662.9,376.1"/>
<polygon points="567.9,522.9 661.7,514.5 661.7,518.9 755.8,518.9 755.8,526.9 661.7,526.9 661.7,531.2"/>
<polygon points="568.5,648.0 662.3,639.6 662.3,644.0 756.3,644.0 756.3,652.0 662.3,652.0 662.3,656.4"/>
<polygon points="577.9,767.3 671.7,758.9 671.7,763.3 765.8,763.3 765.8,771.3 671.7,771.3 671.7,775.6"/>
<polygon points="581.7,879.5 675.5,871.1 675.5,875.5 769.5,875.5 769.5,883.5 675.5,883.5 675.5,887.9"/>
<polygon points="568.7,1005.6 662.5,997.2 662.5,1001.6 756.5,1001.6 756.5,1009.6 662.5,1009.6 662.5,1014.0"/>
<polygon points="614.5,1109.0 692.4,1153.4 689.6,1156.7 768.3,1208.6 763.9,1215.5 685.3,1161.3 683.4,1166.1" stroke-width="2.0"/>
<polygon points="659.8,1329.8 701.0,1275.9 703.2,1278.3 755.9,1219.6 759.4,1222.2 705.7,1281.3 709.2,1283.0" stroke-width="2.0"/>
<polygon points="612.0,1425.2 690.0,1375.4 691.7,1378.6 772.9,1334.1 776.1,1339.8 694.3,1382.8 696.2,1386.2" stroke-width="2.0"/>
<polygon points="658.6,1624.9 718.2,1637.3 716.0,1640.5 775.1,1659.4 772.7,1665.8 714.7,1646.4 714.0,1650.3" stroke-width="2.0"/>
<polygon points="596.5,1662.8 688.4,1709.4 686.6,1712.4 778.3,1762.7 776.0,1766.5 684.5,1714.6 683.4,1717.6" stroke-width="2.0"/>
<polygon points="547.9,1858.7 660.2,1877.3 657.9,1882.4 769.6,1910.1 767.0,1918.9 655.5,1889.6 655.5,1895.9" stroke-width="2.0"/>
</g>
<text class="lab" x="775.3" y="167.8">Lava, dacite-andesite</text>
<text class="lab" x="772.3" y="381.3">Lava, andesite-trachyandesite</text>
<text class="lab" x="772.7" y="532.6">Hyaloclastite</text>
<text class="lab" x="776.7" y="663.2">Tuff, green tuff</text>
<text class="lab" x="775.2" y="774.7">Breccia and tuff</text>
<text class="lab" x="774.3" y="900.3">Breccia and tuff including asidic clast</text>
<text class="lab" x="774.3" y="1023.9">Breccia, mingled breccia, including</text>
<text class="lab" x="775.0" y="1088.5">basic enclave inside acidic groundmass</text>
<text class="lab" x="775.1" y="1215.0">perlite</text>
<text class="lab" x="773.3" y="1345.0">Hornbland-bearing lava; andesite,</text>
<text class="lab" x="774.4" y="1409.6">trachyandesite, trachydacite, dacite,</text>
<text class="lab" x="773.2" y="1474.2">rhyolit, locally hyaloclastite and</text>
<text class="lab" x="773.5" y="1538.8">quartz monzodiorite</text>
<text class="lab" x="774.3" y="1680.5">Prismatic andesite, dacitic andesite</text>
<text class="lab" x="776.1" y="1791.9">Disconformity</text>
<text class="lab" x="772.7" y="1922.2">Ignimbrite, tuff, andesitic</text>
<rect x="0" y="0" width="1750" height="1" fill="#ddd"/>
<rect x="0" y="2108" width="1750" height="1" fill="#bbb"/>
<rect x="0" y="1" width="1750" height="2" fill="#000"/>
<rect x="0" y="2106" width="1750" height="2" fill="#000"/>
<rect x="0" y="1" width="2" height="2107" fill="#000"/>
<rect x="1748" y="1" width="2" height="2107" fill="#000"/>
<rect x="0" y="1" width="1" height="2107" fill="#333"/>
</svg></body></html>
